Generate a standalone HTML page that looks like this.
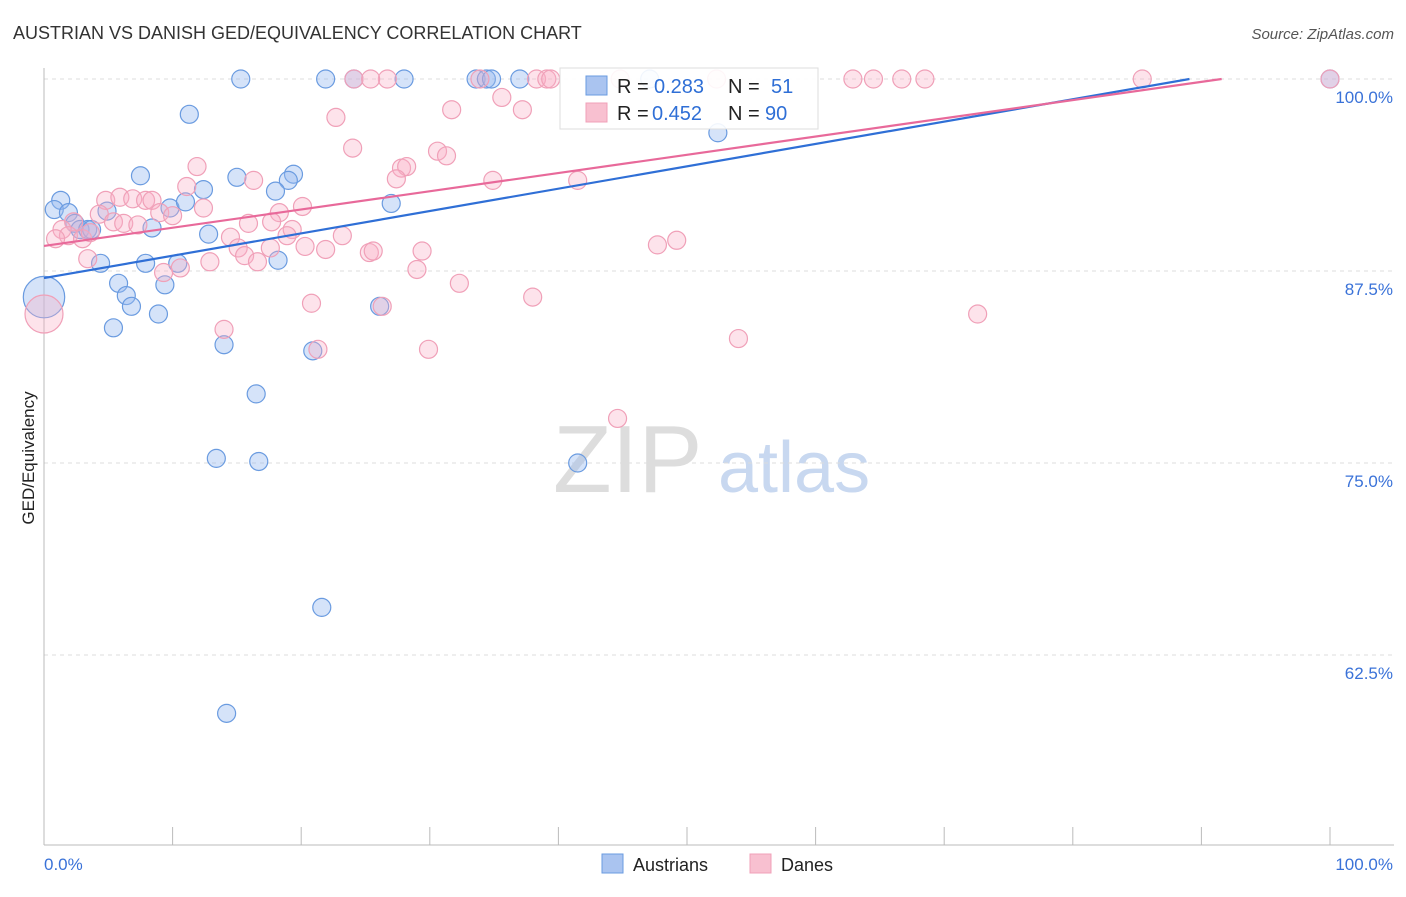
<!DOCTYPE html>
<html><head><meta charset="utf-8"><style>
body{margin:0;background:#fff;font-family:"Liberation Sans",sans-serif;}
svg text{font-family:"Liberation Sans",sans-serif;}
</style></head><body>
<svg id="chart" width="1406" height="892" xmlns="http://www.w3.org/2000/svg">
<text x="13" y="39" font-size="18" fill="#333">AUSTRIAN VS DANISH GED/EQUIVALENCY CORRELATION CHART</text>
<text x="1394" y="39" font-size="15" fill="#555" text-anchor="end" font-style="italic">Source: ZipAtlas.com</text>
<g>
<text x="553" y="492" font-size="96" font-family="Liberation Serif" fill="#ddd">ZIP</text>
<text x="718" y="492" font-size="72" fill="#c8d8f0">atlas</text>
</g>
<g id="grid"></g>
<g id="axes"></g>
<g id="pts"></g>
<g id="lines"></g>
<text transform="translate(34,458) rotate(-90)" text-anchor="middle" font-size="17" fill="#222">GED/Equivalency</text>
<g>
<rect x="560" y="68" width="258" height="61" fill="#fff" fill-opacity="0.9" stroke="#ddd"/>
<rect x="586" y="76" width="21" height="19" fill="#aac4f0" stroke="#6a9be0"/>
<rect x="586" y="103" width="21" height="19" fill="#f8c0d0" stroke="#f0a0b8"/>
<text x="617" y="93" font-size="20" fill="#222">R =</text>
<text x="654" y="93" font-size="20" fill="#2f6fd6">0.283</text>
<text x="728" y="93" font-size="20" fill="#222">N =</text>
<text x="771" y="93" font-size="20" fill="#2f6fd6">51</text>
<text x="617" y="120" font-size="20" fill="#222">R =</text>
<text x="652" y="120" font-size="20" fill="#2f6fd6">0.452</text>
<text x="728" y="120" font-size="20" fill="#222">N =</text>
<text x="765" y="120" font-size="20" fill="#2f6fd6">90</text>
</g>
<g>
<rect x="602" y="854" width="21" height="19" fill="#aac4f0" stroke="#6a9be0"/>
<text x="633" y="871" font-size="18" fill="#222">Austrians</text>
<rect x="750" y="854" width="21" height="19" fill="#f8c0d0" stroke="#f0a0b8"/>
<text x="781" y="871" font-size="18" fill="#222">Danes</text>
</g>
</svg>
<script>
const blueX=[15.3,21.9,24.1,28.0,33.6,34.4,34.8,37.0,100,47.1,11.3,52.4,7.5,15.0,19.4,19.0,12.4,18.0,1.3,0.8,1.9,4.9,9.8,11.0,27.0,2.4,2.8,3.4,3.7,8.4,12.8,4.4,7.9,10.4,18.2,5.8,9.4,6.4,0,6.8,8.9,26.1,5.4,14.0,20.9,16.5,13.4,16.7,41.5,21.6,14.2];
const blueY=[100,100,100,100,100,100,100,100,100,100,97.7,96.5,93.7,93.6,93.8,93.4,92.8,92.7,92.1,91.5,91.3,91.4,91.6,92.0,91.9,90.6,90.2,90.2,90.2,90.3,89.9,88.0,88.0,88.0,88.2,86.7,86.6,85.9,85.8,85.2,84.7,85.2,83.8,82.7,82.3,79.5,75.3,75.1,75.0,65.6,58.7];
const blueSize=[1,1,1,1,1,1,1,1,1,1,1,1,1,1,1,1,1,1,1,1,1,1,1,1,1,1,1,1,1,1,1,1,1,1,1,1,1,1,2.3,1,1,1,1,1,1,1,1,1,1,1,1];
const pinkX=[24.1,26.7,25.4,33.9,38.3,39.1,39.4,44.8,52.3,62.9,64.5,66.7,68.5,85.4,100,35.6,22.7,31.7,37.2,24.0,30.6,31.3,27.8,28.2,11.9,27.4,34.9,41.5,16.3,11.1,4.8,5.9,6.9,7.9,8.4,12.4,20.1,18.3,4.3,9.0,10.0,5.4,15.9,6.2,7.3,2.3,1.4,17.7,19.3,1.9,3.0,3.6,0.9,23.2,14.5,18.9,15.1,17.6,20.3,21.9,25.3,25.6,29.4,15.6,16.6,12.9,10.6,9.3,3.4,29.0,32.3,38.0,20.8,26.3,14.0,72.6,0,54.0,29.9,21.3,44.6,47.7,49.2];
const pinkY=[100,100,100,100,100,100,100,100,100,100,100,100,100,100,100,98.8,97.5,98.0,98.0,95.5,95.3,95.0,94.2,94.3,94.3,93.5,93.4,93.4,93.4,93.0,92.1,92.3,92.2,92.1,92.1,91.6,91.7,91.3,91.2,91.3,91.1,90.7,90.6,90.6,90.5,90.7,90.2,90.7,90.2,89.8,89.6,90.0,89.6,89.8,89.7,89.8,89.0,89.0,89.1,88.9,88.7,88.8,88.8,88.5,88.1,88.1,87.7,87.4,88.3,87.6,86.7,85.8,85.4,85.2,83.7,84.7,84.7,83.1,82.4,82.4,77.9,89.2,89.5];
const pinkBig=76;
const trendBlue=[87.04,0.1455];
const trendPink=[89.13,0.1187];
const yTicks=[100,87.5,75,62.5];
const yTickLabels=["100.0%","87.5%","75.0%","62.5%"];
const xTickLabels=["0.0%","100.0%"];
const NS="http://www.w3.org/2000/svg";
const X0=44,X1=1330,YTOP=79,PX_PER=192/12.5;
function sx(v){return X0+(X1-X0)*v/100;}
function sy(v){return YTOP+(100-v)*PX_PER;}
function mk(tag,attrs,parent){const e=document.createElementNS(NS,tag);for(const k in attrs)e.setAttribute(k,attrs[k]);parent.appendChild(e);return e;}
const grid=document.getElementById('grid'),axes=document.getElementById('axes'),pts=document.getElementById('pts'),lines=document.getElementById('lines');
yTicks.forEach((t,i)=>{
 const l=mk('line',{x1:X0,x2:1394,y1:sy(t),y2:sy(t),stroke:'#ddd','stroke-dasharray':'4,4'},grid);
 
 
 const tx=mk('text',{x:1393,y:sy(t)+24,'text-anchor':'end','font-size':17,fill:'#3a72d8'},axes);
 tx.textContent=yTickLabels[i];
 
 
});
const ax=mk('line',{x1:X0,x2:X0,y1:68,y2:845,stroke:'#bbb'},axes);


const bx=mk('line',{x1:X0,x2:1394,y1:845,y2:845,stroke:'#bbb'},axes);


for(let i=0;i<=10;i++){
 const t=mk('line',{x1:sx(i*10),x2:sx(i*10),y1:827,y2:845,stroke:'#bbb'},axes);
 
 
}
[[0,'start',44],[100,'end',1393]].forEach((d,i)=>{
 const t=mk('text',{x:d[2],y:870,'text-anchor':d[1],'font-size':17,fill:'#3a72d8'},axes);
 t.textContent=xTickLabels[i];
 
 
});
blueX.forEach((x,i)=>{
 const c=mk('circle',{cx:sx(x),cy:sy(blueY[i]),r:9*blueSize[i],fill:'rgba(150,185,240,0.4)',stroke:'#6a9be0','stroke-width':1.2},pts);
 
 
});
pinkX.forEach((x,i)=>{
 const c=mk('circle',{cx:sx(x),cy:sy(pinkY[i]),r:i===pinkBig?19:9,fill:'rgba(248,175,198,0.35)',stroke:'#f0a0b8','stroke-width':1.2},pts);
 
 
});
[[trendBlue,'#2f6fd6','austrian-trend-line'],[trendPink,'#e8699a','dane-trend-line']].forEach(d=>{
 const [b,m]=d[0];const xe=Math.min(100,(100-b)/m);
 const l=mk('line',{x1:sx(0),y1:sy(b),x2:sx(xe),y2:sy(b+m*xe),stroke:d[1],'stroke-width':2.2},lines);
 
 
});
</script>
</body></html>
